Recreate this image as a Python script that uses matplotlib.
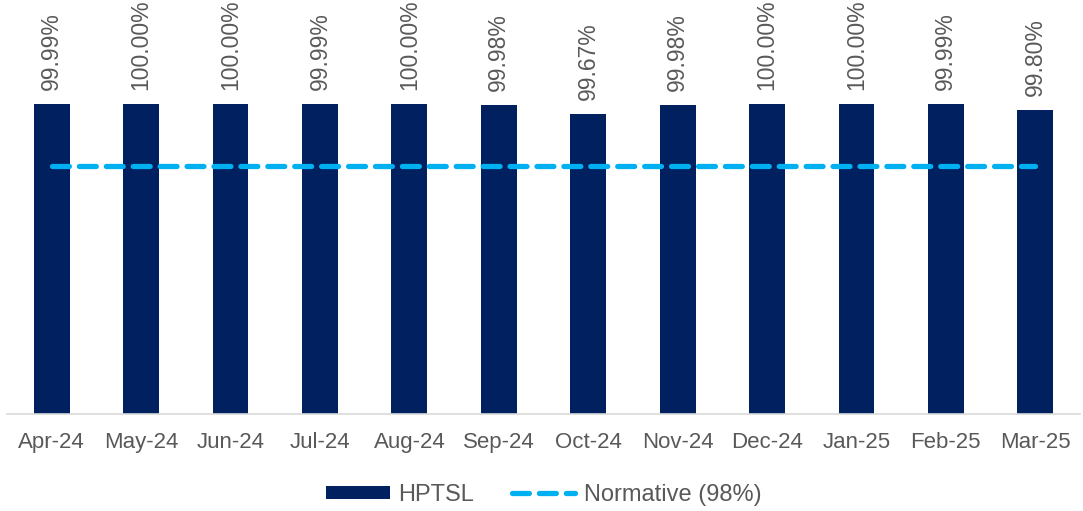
import matplotlib.pyplot as plt
import numpy as np

plt.rcParams["font.family"] = ["Liberation Sans", "DejaVu Sans"]

months = ["Apr-24", "May-24", "Jun-24", "Jul-24", "Aug-24", "Sep-24",
          "Oct-24", "Nov-24", "Dec-24", "Jan-25", "Feb-25", "Mar-25"]
hptsl = [99.99, 100.00, 100.00, 99.99, 100.00, 99.98,
         99.67, 99.98, 100.00, 100.00, 99.99, 99.80]
normative = [98] * len(months)

grey = "#595959"
fig = plt.figure(figsize=(10.83, 5.11), dpi=100)
ax = fig.add_axes([7 / 1083, 1 - 414 / 511, 1073 / 1083, 403 / 511])

x = np.arange(len(months))
bars = ax.bar(x, hptsl, width=0.4, color="#002060", label="HPTSL", zorder=2)
line, = ax.plot(x, normative, color="#00B0F0", lw=3.8, ls=(0, (3.2, 1.9)),
                dash_capstyle="round", label="Normative (98%)", zorder=3)

for xi, v in zip(x, hptsl):
    ax.annotate(f"{v:.2f}%", (xi, v), xytext=(0, 10), textcoords="offset points",
                rotation=90, ha="center", va="bottom", fontsize=16.5, color=grey)

ax.set_ylim(90, 103)
ax.set_xlim(-0.5, len(months) - 0.5)
ax.set_xticks(x)
ax.set_xticklabels(months, fontsize=16, color=grey)
ax.tick_params(axis="x", length=0, pad=13)
ax.set_yticks([])
for s in ["top", "right", "left"]:
    ax.spines[s].set_visible(False)
ax.spines["bottom"].set_color("#d9d9d9")
ax.spines["bottom"].set_linewidth(1.2)

leg = ax.legend([bars, line], ["HPTSL", "Normative (98%)"], loc="center",
                bbox_to_anchor=(0.5, -0.2), ncol=2, frameon=False,
                fontsize=17, handlelength=2.7, handleheight=0.45,
                columnspacing=1.6, handletextpad=0.35)
for t in leg.get_texts():
    t.set_color(grey)

fig.savefig("out.png", dpi=100)
